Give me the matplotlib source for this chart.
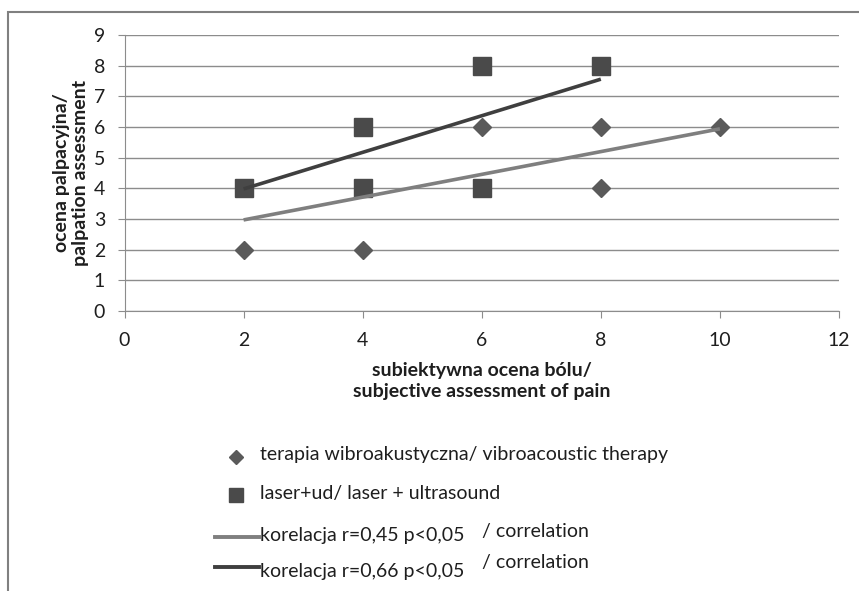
import matplotlib
matplotlib.use("Agg")
import matplotlib.pyplot as plt
from matplotlib.lines import Line2D
from matplotlib.patches import Rectangle

# data
vibro_x = [2, 4, 6, 8, 8, 10]
vibro_y = [2, 2, 6, 6, 4, 6]
laser_x = [2, 4, 4, 6, 6, 8]
laser_y = [4, 6, 4, 8, 4, 8]

# correlation lines (end points)
vibro_fit_x = [2, 10]
vibro_fit_y = [2.97, 5.94]
laser_fit_x = [2, 8]
laser_fit_y = [3.98, 7.56]

x_ticks = [0, 2, 4, 6, 8, 10, 12]
y_ticks = list(range(10))

legend_labels = [
    "terapia wibroakustyczna/ vibroacoustic therapy",
    "laser+ud/ laser + ultrasound",
    "korelacja r=0,45 p<0,05",
    "korelacja r=0,66 p<0,05",
]

plt.rcParams['font.family'] = ['Lato', 'DejaVu Sans']

W, H = 859, 591
fig = plt.figure(figsize=(W / 100, H / 100), dpi=100)
ax = fig.add_axes([124.5 / W, 1 - 311 / H, (839 - 124.5) / W, (311 - 35) / H])

grey_diamond = '#5a5a5a'
grey_square = '#4a4a4a'
light_line = '#7f7f7f'
dark_line = '#3f3f3f'
text_col = '#1e1e1e'

ax.plot(vibro_x, vibro_y, 'D', color=grey_diamond, ms=9, mec=grey_diamond, zorder=3)
ax.plot(laser_x, laser_y, 's', color=grey_square, ms=12.5, mec=grey_square, zorder=3)
ax.plot(vibro_fit_x, vibro_fit_y, color=light_line, lw=2.6, solid_capstyle='butt', zorder=4)
ax.plot(laser_fit_x, laser_fit_y, color=dark_line, lw=2.6, solid_capstyle='butt', zorder=4)

ax.set_xlim(0, 12)
ax.set_ylim(0, 9)
ax.set_xticks(x_ticks)
ax.set_yticks(y_ticks)
ax.grid(axis='y', color='#8c8c8c', lw=1)
ax.set_axisbelow(True)
for side in ['top', 'right']:
    ax.spines[side].set_visible(False)
for side in ['left', 'bottom']:
    ax.spines[side].set_color('#8c8c8c')
ax.tick_params(direction='out', length=5, color='#8c8c8c', labelsize=14,
               labelcolor=text_col)
ax.tick_params(axis='x', pad=10)
ax.tick_params(axis='y', pad=9)

ax.set_xlabel("subiektywna ocena bólu/\nsubjective assessment of pain",
              fontsize=14, fontweight='bold', linespacing=1.3, color=text_col)
ax.xaxis.set_label_coords(0.5, (311 - 362) / 276)
ax.xaxis.label.set_va('top')
ax.set_ylabel("ocena palpacyjna/\npalpation assessment",
              fontsize=14, fontweight='bold', linespacing=1.15, color=text_col)
ax.yaxis.set_label_coords((89 - 124.5) / 714.5, 0.5)

# outer frame
fig.add_artist(Rectangle((8 / W, -0.1), 1.2, 1 - 12 / H + 0.1, transform=fig.transFigure,
                         fill=False, edgecolor='#808080', lw=1.5))

# legend drawn below the plot
mark_y = [457, 495, 537, 567]
base_y = [460, 499, 541, 577]
handles = [
    Line2D([236 / W], [1 - mark_y[0] / H], marker='D', color=grey_diamond, ms=7, ls='none'),
    Line2D([236 / W], [1 - mark_y[1] / H], marker='s', color=grey_square, ms=10.5, ls='none'),
    Line2D([215 / W, 259 / W], [1 - mark_y[2] / H] * 2, color=light_line, lw=2.8),
    Line2D([215 / W, 259 / W], [1 - mark_y[3] / H] * 2, color=dark_line, lw=2.8),
]
for h, label, y in zip(handles, legend_labels, base_y):
    h.set_transform(fig.transFigure)
    fig.add_artist(h)
    fig.text(260 / W, 1 - y / H, label, fontsize=14, va='baseline', ha='left', color=text_col)
for y in [537, 568]:
    fig.text(482 / W, 1 - y / H, "/ correlation", fontsize=14, va='baseline', ha='left',
             color=text_col)

fig.savefig("out.png", dpi=100)
